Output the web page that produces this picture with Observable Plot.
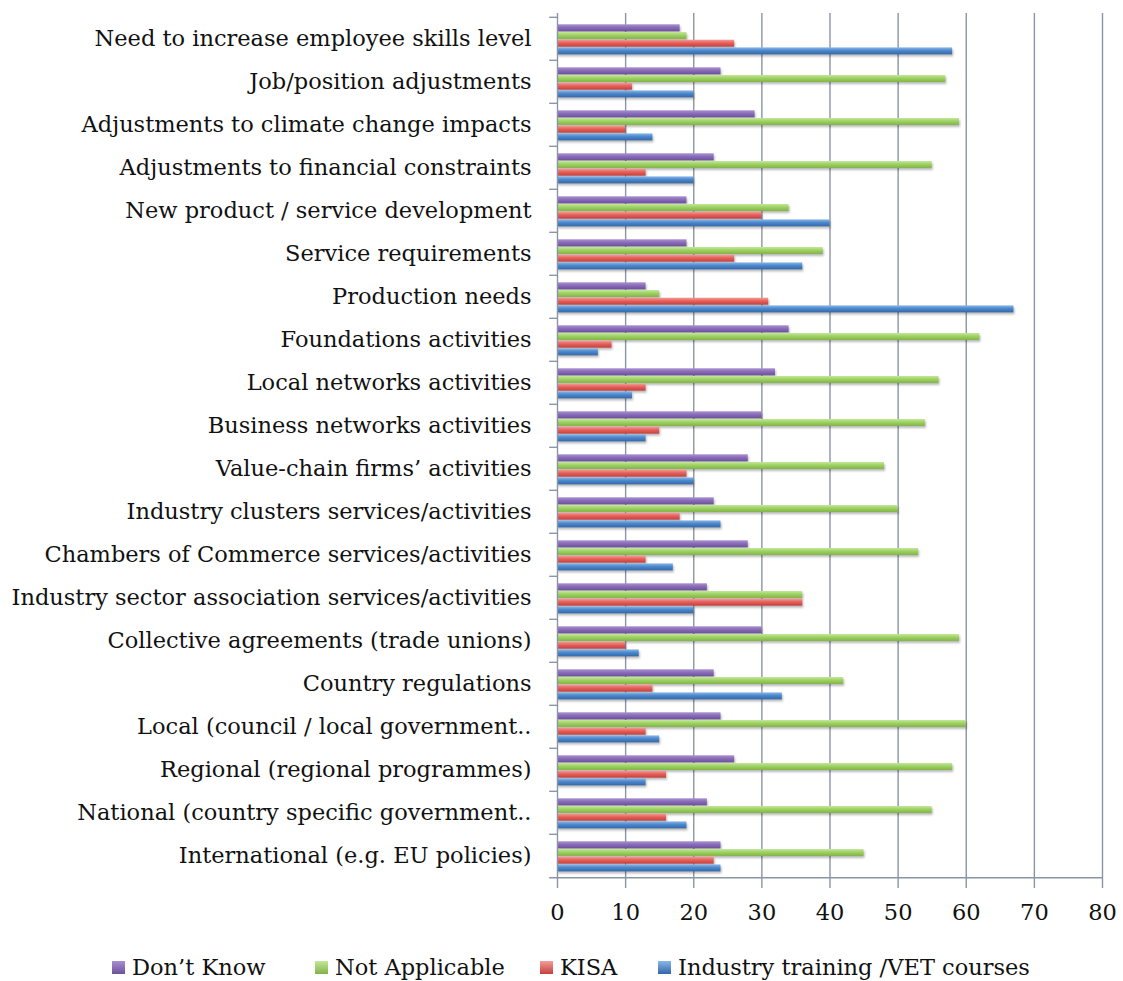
<!DOCTYPE html>
<html>
<head>
<meta charset="utf-8">
<script src="https://cdn.jsdelivr.net/npm/d3@7"></script>
<script src="https://cdn.jsdelivr.net/npm/@observablehq/plot@0.6"></script>
<style>
  html, body { margin: 0; padding: 0; background: #fff; }
  #chart { width: 1123px; position: relative; }
  .legend { position: relative; height: 41px; font-family: "DejaVu Serif", serif; font-size: 22.5px; color: #111; }
  .legend .item { position: absolute; top: 13px; display: flex; align-items: center; white-space: nowrap; line-height: 28px; }
  .legend .sw { width: 13px; height: 13px; margin-right: 7px; }
</style>
</head>
<body>
<div id="chart"></div>
<script>
const categories = [
  "Need to increase employee skills level",
  "Job/position adjustments",
  "Adjustments to climate change impacts",
  "Adjustments to financial constraints",
  "New product / service development",
  "Service requirements",
  "Production needs",
  "Foundations activities",
  "Local networks activities",
  "Business networks activities",
  "Value-chain firms’ activities",
  "Industry clusters services/activities",
  "Chambers of Commerce services/activities",
  "Industry sector association services/activities",
  "Collective agreements (trade unions)",
  "Country regulations",
  "Local (council / local government..",
  "Regional (regional programmes)",
  "National (country specific government..",
  "International (e.g. EU policies)"
];
const dontKnow      = [18, 24, 29, 23, 19, 19, 13, 34, 32, 30, 28, 23, 28, 22, 30, 23, 24, 26, 22, 24];
const notApplicable = [19, 57, 59, 55, 34, 39, 15, 62, 56, 54, 48, 50, 53, 36, 59, 42, 60, 58, 55, 45];
const kisa          = [26, 11, 10, 13, 30, 26, 31,  8, 13, 15, 19, 18, 13, 36, 10, 14, 13, 16, 16, 23];
const industryVET   = [58, 20, 14, 20, 40, 36, 67,  6, 11, 13, 20, 24, 17, 20, 12, 33, 15, 13, 19, 24];
const seriesNames = ["Don’t Know", "Not Applicable", "KISA", "Industry training /VET courses"];
const seriesValues = [dontKnow, notApplicable, kisa, industryVET];
const xTicks = [0, 10, 20, 30, 40, 50, 60, 70, 80];

const colors = [
  {top: "#a990d0", mid: "#8a6db8", bot: "#6d509b"},
  {top: "#c4e79c", mid: "#9ed263", bot: "#80b445"},
  {top: "#f39d99", mid: "#e6615c", bot: "#c5403c"},
  {top: "#8ab5e7", mid: "#4c88cc", bot: "#3367ab"}
];
const legendLeft = [112, 315, 540, 658];
const axisColor = "#8a95a5";
const fontFamily = '"DejaVu Serif", serif';

const width = 1123, height = 940;
const mt = 13, mb = 60, ml = 557, mr = 21;
const step = (height - mt - mb) / categories.length;
const barH = 7.3, barPitch = 7.7, groupTop = 7.3;

const rows = seriesValues.map((vals, s) => categories.map((c, i) => ({category: c, value: vals[i], series: seriesNames[s]})));

const barMarks = rows.map((data, s) => Plot.barX(data, {
  x: "value", y: "category",
  fill: `url(#grad${s})`,
  insetTop: groupTop + s * barPitch,
  insetBottom: step - (groupTop + s * barPitch + barH)
}));

const plot = Plot.plot({
  width, height,
  marginTop: mt, marginBottom: mb, marginLeft: ml, marginRight: mr,
  style: {fontFamily, fontSize: "22.5px", color: "#111", background: "#fff"},
  x: {domain: [0, 80]},
  y: {domain: categories, padding: 0},
  marks: [
    Plot.ruleX(xTicks.slice(1), {stroke: axisColor, strokeWidth: 1.4}),
    ...barMarks,
    Plot.ruleX([0], {stroke: axisColor, strokeWidth: 1.4}),
    Plot.ruleY(categories, {y: d => d, dy: -step / 2, x1: -1.15, x2: 0, stroke: axisColor, strokeWidth: 1.4}),
    Plot.ruleY([categories[categories.length - 1]], {y: d => d, dy: step / 2, x1: -1.15, x2: 80, stroke: axisColor, strokeWidth: 1.4}),
    Plot.axisY({tickSize: 0, tickPadding: 26, fontSize: 22.5, fill: "#111", label: null}),
    Plot.axisX({ticks: xTicks, tickSize: 8, tickPadding: 16, fontSize: 22.5, stroke: axisColor, strokeWidth: 1.4, fill: "#111", label: null})
  ]
});

// gradients and shadows
const ns = "http://www.w3.org/2000/svg";
const defs = document.createElementNS(ns, "defs");
colors.forEach((c, s) => {
  const g = document.createElementNS(ns, "linearGradient");
  g.setAttribute("id", `grad${s}`);
  g.setAttribute("x1", "0"); g.setAttribute("y1", "0"); g.setAttribute("x2", "0"); g.setAttribute("y2", "1");
  [["0%", c.top], ["45%", c.mid], ["100%", c.bot]].forEach(([o, col]) => {
    const st = document.createElementNS(ns, "stop");
    st.setAttribute("offset", o); st.setAttribute("stop-color", col);
    g.appendChild(st);
  });
  defs.appendChild(g);
});
plot.insertBefore(defs, plot.firstChild);
plot.querySelectorAll('g[aria-label="bar"]').forEach(g => {
  g.style.filter = "drop-shadow(1.5px 2px 1.2px rgba(0,0,0,0.28))";
});

document.getElementById("chart").appendChild(plot);

// legend
const legend = document.createElement("div");
legend.className = "legend";
seriesNames.forEach((n, s) => {
  const item = document.createElement("div");
  item.className = "item";
  item.style.left = legendLeft[s] + "px";
  const sw = document.createElement("div");
  sw.className = "sw";
  sw.style.background = `linear-gradient(${colors[s].top}, ${colors[s].bot})`;
  const t = document.createElement("span");
  t.textContent = n;
  item.appendChild(sw); item.appendChild(t);
  legend.appendChild(item);
});
document.getElementById("chart").appendChild(legend);
</script>
</body>
</html>
